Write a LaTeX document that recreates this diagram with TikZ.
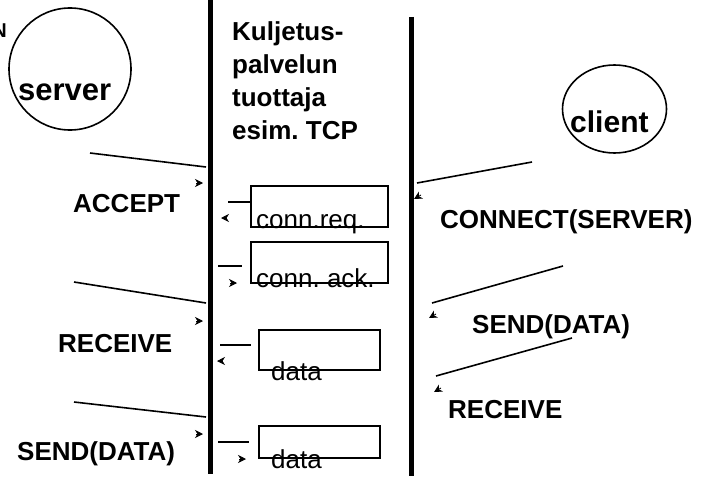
\documentclass[tikz,border=0pt]{standalone}
\usepackage{fontspec}
\setmainfont{Liberation Sans}
\usepackage{tikz}
\usetikzlibrary{arrows.meta}
\frenchspacing
\tikzset{
  bar/.style={draw=black, line width=5pt},
  thin/.style={draw=black, line width=1.6pt},
  box/.style={draw=black, line width=1.5pt, inner sep=0pt, anchor=north west},
  tip/.style={-{Stealth[length=8pt,width=8pt,inset=2.5pt]}, line width=0.8pt},
  lbl/.style={font=\fontsize{26}{33.3}\selectfont\bfseries, inner sep=0pt, anchor=base west},
  plain/.style={font=\fontsize{26}{30}\selectfont, inner sep=0pt, anchor=base west}
}
\begin{document}
\begin{tikzpicture}[x=1pt,y=-1pt]
  \useasboundingbox (0,0) rectangle (703,476);

  % the two interface lines
  \coordinate (Lt) at (210,0);
  \coordinate (Lb) at (210,474);
  \coordinate (Rt) at (411,17);
  \coordinate (Rb) at (411,476);
  \draw[bar] (Lt)--(Lb);
  \draw[bar] (Rt)--(Rb);

  % user processes
  \draw[thin] (70,69) circle [x radius=61, y radius=61];
  \node[lbl, font=\fontsize{31}{31}\selectfont\bfseries] (srv) at (18,100) {server};
  \draw[thin] (614.5,109) circle [x radius=52, y radius=44];
  \node[lbl, font=\fontsize{30}{30}\selectfont\bfseries] (cli) at (570,132) {client};
  \node[lbl, font=\fontsize{20}{20}\selectfont\bfseries, anchor=base east] (cut) at (7,38) {N};

  \node[lbl, anchor=north west, align=left] (tcp) at (232,21)
    {Kuljetus-\\palvelun\\tuottaja\\esim. TCP};

  % segments
  \node[box, minimum width=137pt, minimum height=41pt] (rq) at (250,185) {};
  \node[box, minimum width=137pt, minimum height=41pt] (ak) at (250,241) {};
  \node[box, minimum width=121pt, minimum height=40pt] (d1) at (258,329) {};
  \node[box, minimum width=121pt, minimum height=32pt] (d2) at (258,425) {};
  \node[plain] (rqt) at (256,228) {conn.req.};
  \node[plain] (akt) at (256,287) {conn. ack.};
  \node[plain] (d1t) at (271,380) {data};
  \node[plain] (d2t) at (271,468) {data};

  \draw[thin] (228,202)--(rq.west |- 0,202);
  \draw[thin] (218,266)--(242,266);
  \draw[thin] (220,345)--(251,345);
  \draw[thin] (218,442)--(249,442);
  \draw[tip] (227,218)--(221,218);
  \draw[tip] (230,283)--(237,283);
  \draw[tip] (223,361)--(217,361);
  \draw[tip] (239,459)--(246,459);

  % server side primitives
  \draw[thin] (90,153)--(206,167);
  \draw[thin] (74,282)--(206,303);
  \draw[thin] (74,402)--(206,417);
  \draw[tip] (196,183)--(203,183);
  \draw[tip] (196,321)--(203,321);
  \draw[tip] (196,434)--(203,434);
  \node[lbl] (acc) at (73,212) {ACCEPT};
  \node[lbl] (rcvl) at (58,352) {RECEIVE};
  \node[lbl] (sndl) at (17,460) {SEND(DATA)};

  % client side primitives
  \draw[thin] (532,162)--(417,183);
  \draw[thin] (563,266)--(432,303);
  \draw[thin] (572,338)--(436,376);
  \draw[tip] (421,195)--(414,199);
  \draw[tip] (436,314)--(429,318);
  \draw[tip] (441,388)--(434,392);
  \node[lbl] (con) at (440,228) {CONNECT(SERVER)};
  \node[lbl] (sndr) at (472,333) {SEND(DATA)};
  \node[lbl] (rcvr) at (448,418) {RECEIVE};
\end{tikzpicture}
\end{document}
